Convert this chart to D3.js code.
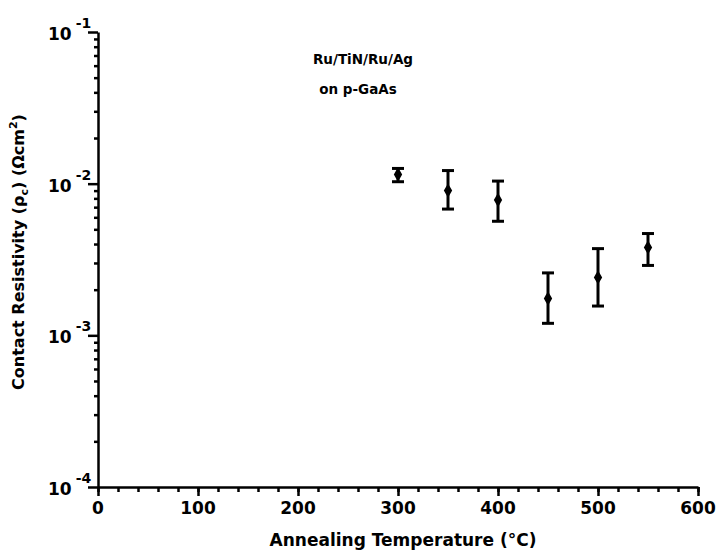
<!DOCTYPE html>
<html lang="en">
<head>
<meta charset="UTF-8">
<script src="https://d3js.org/d3.v7.min.js"></script>
<style>
body { margin: 0; background: white; }
text { font-family: "DejaVu Sans", sans-serif; font-weight: bold; fill: black; }
.axis path, .axis line { stroke: black; stroke-width: 2.5px; }
</style>
</head>
<body>
<div id="chart"></div>
<script>
// data
var temps = [300, 350, 400, 450, 500, 550];
var rho = [0.0115, 0.0090, 0.0078, 0.00175, 0.00241, 0.0038];
var rhoLow = [0.0103, 0.0068, 0.00565, 0.00120, 0.00156, 0.00289];
var rhoHigh = [0.0126, 0.0122, 0.0104, 0.00258, 0.00373, 0.00469];

var xMajor = [0, 100, 200, 300, 400, 500, 600];
var xMinor = d3.range(0, 601, 20);
var yDecades = [1e-4, 1e-3, 1e-2, 1e-1];
var yExps = ["-4", "-3", "-2", "-1"];

var width = 722, height = 553;
var margin = {top: 32, right: 24, bottom: 66, left: 98};

var svg = d3.select("#chart").append("svg")
    .attr("width", width)
    .attr("height", height);

var x = d3.scaleLinear().domain([0, 600]).range([margin.left, width - margin.right]);
var y = d3.scaleLog().domain([1e-4, 1e-1]).range([height - margin.bottom, margin.top]);

// minor y ticks (2..9 per decade)
var yMinor = [];
yDecades.slice(0, 3).forEach(function(d) {
  for (var k = 2; k <= 9; k++) yMinor.push(d * k);
});

svg.append("g")
    .attr("class", "axis")
    .attr("transform", "translate(" + x(0) + ",0)")
    .call(d3.axisLeft(y).tickValues(yMinor).tickSize(4).tickFormat(""))
    .select(".domain").remove();

svg.append("g")
    .attr("class", "axis")
    .attr("transform", "translate(" + x(0) + ",0)")
    .call(d3.axisLeft(y).tickValues(yDecades).tickSize(10).tickSizeOuter(0).tickFormat(""));

// x axis
svg.append("g")
    .attr("class", "axis")
    .attr("transform", "translate(0," + y(1e-4) + ")")
    .call(d3.axisBottom(x).tickValues(xMinor).tickSize(5).tickFormat(""))
    .select(".domain").remove();

svg.append("g")
    .attr("class", "axis")
    .attr("transform", "translate(0," + y(1e-4) + ")")
    .call(d3.axisBottom(x).tickValues(xMajor).tickSize(9).tickSizeOuter(0).tickFormat(""));

// x tick labels
svg.selectAll(".xlab")
    .data(xMajor)
    .enter().append("text")
    .attr("x", function(d) { return x(d); })
    .attr("y", y(1e-4) + 27)
    .attr("text-anchor", "middle")
    .style("font-size", "17px")
    .text(function(d) { return d; });

// y tick labels: 10 with superscript
var yl = svg.selectAll(".ylab")
    .data(yDecades)
    .enter().append("text")
    .attr("x", 48)
    .attr("y", function(d) { return y(d) + 8; })
    .style("font-size", "17px");
yl.append("tspan").text("10");
yl.append("tspan")
    .attr("dy", -12)
    .attr("dx", 4)
    .style("font-size", "14px")
    .text(function(d, i) { return yExps[i]; });

// axis titles
svg.append("text")
    .attr("x", 403)
    .attr("y", 546)
    .attr("text-anchor", "middle")
    .style("font-size", "17px")
    .text("Annealing Temperature (°C)");

var yt = svg.append("text")
    .attr("transform", "translate(24,252) rotate(-90)")
    .attr("text-anchor", "middle")
    .style("font-size", "16px");
yt.append("tspan").text("Contact Resistivity (ρ");
yt.append("tspan").attr("dy", 4).style("font-size", "11px").text("c");
yt.append("tspan").attr("dy", -4).text(") (Ωcm");
yt.append("tspan").attr("dy", -7).style("font-size", "11px").text("2");
yt.append("tspan").attr("dy", 7).text(")");

// annotation
svg.append("text")
    .attr("x", 363)
    .attr("y", 64)
    .attr("text-anchor", "middle")
    .style("font-size", "13.5px")
    .text("Ru/TiN/Ru/Ag");
svg.append("text")
    .attr("x", 358)
    .attr("y", 94)
    .attr("text-anchor", "middle")
    .style("font-size", "13.5px")
    .text("on p-GaAs");

// error bars and markers
var pts = svg.append("g");
var capW = 6;
temps.forEach(function(t, i) {
  var g = pts.append("g");
  g.append("line")
      .attr("x1", x(t)).attr("x2", x(t))
      .attr("y1", y(rhoLow[i])).attr("y2", y(rhoHigh[i]))
      .attr("stroke", "black").attr("stroke-width", 3);
  [rhoLow[i], rhoHigh[i]].forEach(function(v) {
    g.append("line")
        .attr("x1", x(t) - capW).attr("x2", x(t) + capW)
        .attr("y1", y(v)).attr("y2", y(v))
        .attr("stroke", "black").attr("stroke-width", 3);
  });
  g.append("path")
      .attr("transform", "translate(" + x(t) + "," + y(rho[i]) + ")")
      .attr("d", d3.symbol().type(d3.symbolDiamond).size(60))
      .attr("fill", "black");
});
</script>
</body>
</html>
